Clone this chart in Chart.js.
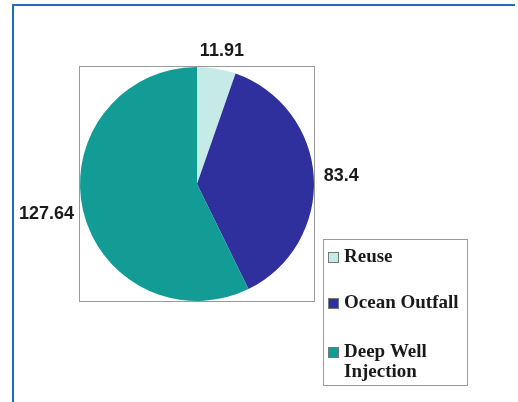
<!DOCTYPE html>
<html>
<head>
<meta charset="utf-8">
<script src="https://cdn.jsdelivr.net/npm/chart.js@4/dist/chart.umd.min.js"></script>
<style>
  html, body { margin: 0; padding: 0; background: #fff; }
  #wrap { position: relative; width: 518px; height: 402px; overflow: hidden; }
  #frame { position: absolute; left: 12px; top: 4px; right: 3px; bottom: -10px;
           border-left: 2px solid #1a6fc4; border-top: 2px solid #1a6fc4; }
  canvas { position: absolute; left: 0; top: 0; }
</style>
</head>
<body>
<div id="wrap">
  <div id="frame"></div>
  <canvas id="pie" width="518" height="402"></canvas>
</div>
<script>
// Chart data
const categories = ['Reuse', 'Ocean Outfall', 'Deep Well Injection'];
const values = [11.91, 83.4, 127.64];
const valueLabels = ['11.91', '83.4', '127.64'];
const legendLines = [['Reuse'], ['Ocean Outfall'], ['Deep Well', 'Injection']];
const colors = ['#c6eae6', '#2f2f9e', '#139c96'];

// grey box around the pie area
const plotBox = {
    id: 'plotBox',
    beforeDatasetsDraw(chart) {
        const a = chart.chartArea;
        const ctx = chart.ctx;
        ctx.save();
        ctx.strokeStyle = '#9a9a9a';
        ctx.lineWidth = 1;
        ctx.strokeRect(a.left - 0.5, a.top - 0.5, a.right - a.left + 1, a.bottom - a.top + 1);
        ctx.restore();
    }
};

// value labels outside each slice
const sliceLabels = {
    id: 'sliceLabels',
    afterDatasetsDraw(chart) {
        const ctx = chart.ctx;
        const meta = chart.getDatasetMeta(0);
        ctx.save();
        ctx.font = 'bold 18px "Liberation Sans", Arial, sans-serif';
        ctx.fillStyle = '#1a1a1a';
        ctx.textAlign = 'center';
        ctx.textBaseline = 'middle';
        meta.data.forEach((arc, i) => {
            const p = arc.getProps(['x', 'y', 'startAngle', 'endAngle', 'outerRadius']);
            const mid = (p.startAngle + p.endAngle) / 2;
            const r = p.outerRadius + 10;
            const ax = p.x + Math.cos(mid) * r;
            const ay = p.y + Math.sin(mid) * r;
            const w = ctx.measureText(valueLabels[i]).width;
            const h = 16;
            ctx.fillText(valueLabels[i], ax + Math.cos(mid) * w / 2, ay + Math.sin(mid) * h / 2);
        });
        ctx.restore();
    }
};

// boxed legend on the right
const boxLegend = {
    id: 'boxLegend',
    afterDraw(chart) {
        const ctx = chart.ctx;
        const x = 323, y = 239, w = 144, h = 146;
        ctx.save();
        ctx.strokeStyle = '#9a9a9a';
        ctx.lineWidth = 1;
        ctx.strokeRect(x + 0.5, y + 0.5, w, h);
        ctx.font = 'bold 19px "Liberation Serif", "Times New Roman", serif';
        ctx.textBaseline = 'middle';
        ctx.textAlign = 'left';
        const rowY = [257, 303, 352];
        chart.data.labels.forEach((lab, i) => {
            const cy = rowY[i];
            ctx.fillStyle = colors[i];
            ctx.fillRect(328, cy - 5, 11, 11);
            ctx.strokeStyle = '#777';
            ctx.strokeRect(328.5, cy - 4.5, 10, 10);
            ctx.fillStyle = '#1a1a1a';
            legendLines[i].forEach((line, j) => {
                ctx.fillText(line, 344, cy + j * 20);
            });
        });
        ctx.restore();
    }
};

new Chart(document.getElementById('pie').getContext('2d'), {
    type: 'pie',
    data: {
        labels: categories,
        datasets: [{
            data: values,
            backgroundColor: colors,
            borderWidth: 0
        }]
    },
    options: {
        responsive: false,
        animation: false,
        layout: { padding: { left: 80, right: 204, top: 67, bottom: 101 } },
        plugins: {
            legend: { display: false },
            tooltip: { enabled: false }
        }
    },
    plugins: [plotBox, sliceLabels, boxLegend]
});
</script>
</body>
</html>
